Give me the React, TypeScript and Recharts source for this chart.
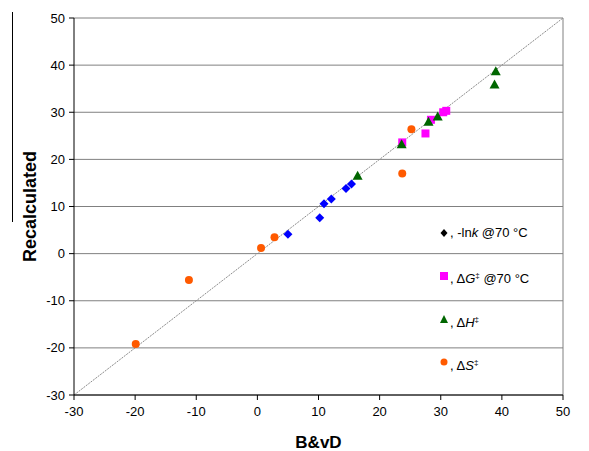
import { ScatterChart, Scatter, XAxis, YAxis, CartesianGrid, ReferenceLine } from "recharts";

// values (B&vD vs recalculated)
const lnkPoints = [
  { x: 5.0, y: 4.1 },
  { x: 10.2, y: 7.6 },
  { x: 10.9, y: 10.6 },
  { x: 12.1, y: 11.6 },
  { x: 14.5, y: 13.8 },
  { x: 15.4, y: 14.8 },
];
const dGPoints = [
  { x: 23.7, y: 23.6 },
  { x: 27.5, y: 25.5 },
  { x: 28.4, y: 28.4 },
  { x: 30.4, y: 30.0 },
  { x: 30.9, y: 30.3 },
];
const dHPoints = [
  { x: 16.4, y: 16.5 },
  { x: 23.6, y: 23.2 },
  { x: 28.0, y: 28.0 },
  { x: 29.5, y: 29.1 },
  { x: 39.0, y: 38.7 },
  { x: 38.8, y: 35.9 },
];
const dSPoints = [
  { x: -19.9, y: -19.2 },
  { x: -11.2, y: -5.6 },
  { x: 0.6, y: 1.2 },
  { x: 2.8, y: 3.5 },
  { x: 23.7, y: 17.0 },
  { x: 25.2, y: 26.4 },
];

const TICKS = [-30, -20, -10, 0, 10, 20, 30, 40, 50];

const FONT = "'Liberation Sans', Arial, sans-serif";
const ORANGE = "#ff5a00";
const GREEN = "#006600";
const MAGENTA = "#ff00ff";

// excel-style markers, fixed pixel size
const diamond = (color: string) => (p: any) => (
  <polygon points={`${p.cx},${p.cy - 4.5} ${p.cx + 4.5},${p.cy} ${p.cx},${p.cy + 4.5} ${p.cx - 4.5},${p.cy}`} fill={color} />
);
const square = (color: string) => (p: any) => (
  <rect x={p.cx - 4} y={p.cy - 4} width={8} height={8} fill={color} />
);
const triangle = (color: string) => (p: any) => (
  <polygon points={`${p.cx},${p.cy - 5} ${p.cx + 5},${p.cy + 4} ${p.cx - 5},${p.cy + 4}`} fill={color} />
);
const circle = (color: string) => (p: any) => <circle cx={p.cx} cy={p.cy} r={4} fill={color} />;

function LegendIcon({ kind, color }: { kind: string; color: string }) {
  return (
    <svg width={8} height={8} style={{ marginRight: 2 }}>
      {kind === "diamond" && <polygon points="4,0 7.5,4 4,8 0.5,4" fill={color} />}
      {kind === "square" && <rect x={0} y={0} width={8} height={8} fill={color} />}
      {kind === "triangle" && <polygon points="4,0 8,8 0,8" fill={color} />}
      {kind === "circle" && <circle cx={4} cy={4} r={3.5} fill={color} />}
    </svg>
  );
}

// legend sits inside the plot, drawn as a plain overlay so it takes no room from the chart
function ChartLegend() {
  const rows = [
    { kind: "diamond", color: "#000", label: <>, -ln<i>k</i> @70 °C</> },
    { kind: "square", color: MAGENTA, label: <>, Δ<i>G</i><sup style={{ fontSize: 8 }}>‡</sup> @70 °C</> },
    { kind: "triangle", color: GREEN, label: <>, Δ<i>H</i><sup style={{ fontSize: 8 }}>‡</sup></> },
    { kind: "circle", color: ORANGE, label: <>, Δ<i>S</i><sup style={{ fontSize: 8 }}>‡</sup></> },
  ];
  return (
    <div style={{ position: "absolute", left: 440, top: 224, width: 140, fontFamily: FONT, fontSize: 13, color: "#000" }}>
      {rows.map((r, i) => (
        <div key={i} style={{ height: 43.3, display: "flex", alignItems: "flex-start", lineHeight: "17px" }}>
          <span style={{ display: "inline-flex", alignItems: "center", height: 17 }}>
            <LegendIcon kind={r.kind} color={r.color} />
          </span>
          <span>{r.label}</span>
        </div>
      ))}
    </div>
  );
}

export default function App() {
  return (
    <div style={{ position: "absolute", left: 0, top: 0, width: 589, height: 451, background: "#fff" }}>
      <div style={{ position: "absolute", left: 12, top: 12, width: 1, height: 210, background: "#000" }} />
      <ScatterChart width={589} height={451} margin={{ top: 18, right: 26, bottom: 0, left: 10 }}>
        <CartesianGrid vertical={false} stroke="#808080" strokeWidth={1} />
        <XAxis
          type="number"
          dataKey="x"
          domain={[-30, 50]}
          ticks={TICKS}
          interval={0}
          height={56}
          axisLine={{ stroke: "#000" }}
          tickLine={{ stroke: "#000" }}
          tickSize={5}
          tickMargin={7}
          tick={{ fill: "#000", fontSize: 13, fontFamily: FONT }}
          label={{ value: "B&vD", position: "insideBottom", offset: 3, fill: "#000", fontSize: 17, fontWeight: "bold", fontFamily: FONT }}
        />
        <YAxis
          type="number"
          dataKey="y"
          domain={[-30, 50]}
          ticks={TICKS}
          interval={0}
          width={64}
          axisLine={{ stroke: "#000" }}
          tickLine={{ stroke: "#000" }}
          tickSize={5}
          tickMargin={4}
          tick={{ fill: "#000", fontSize: 13, fontFamily: FONT }}
          label={{ value: "Recalculated", angle: -90, position: "center", dx: -12, fill: "#000", fontSize: 18, fontWeight: "bold", fontFamily: FONT }}
        />
        <ReferenceLine x={50} stroke="#808080" />
        <ReferenceLine
          segment={[{ x: -30, y: -30 }, { x: 50, y: 50 }]}
          stroke="#8c8c8c"
          strokeDasharray="2 1"
          strokeWidth={1}
        />
        <Scatter name="lnk" data={lnkPoints} shape={diamond("#0000ff")} isAnimationActive={false} />
        <Scatter name="dG" data={dGPoints} shape={square(MAGENTA)} isAnimationActive={false} />
        <Scatter name="dH" data={dHPoints} shape={triangle(GREEN)} isAnimationActive={false} />
        <Scatter name="dS" data={dSPoints} shape={circle(ORANGE)} isAnimationActive={false} />
      </ScatterChart>
      <ChartLegend />
    </div>
  );
}
